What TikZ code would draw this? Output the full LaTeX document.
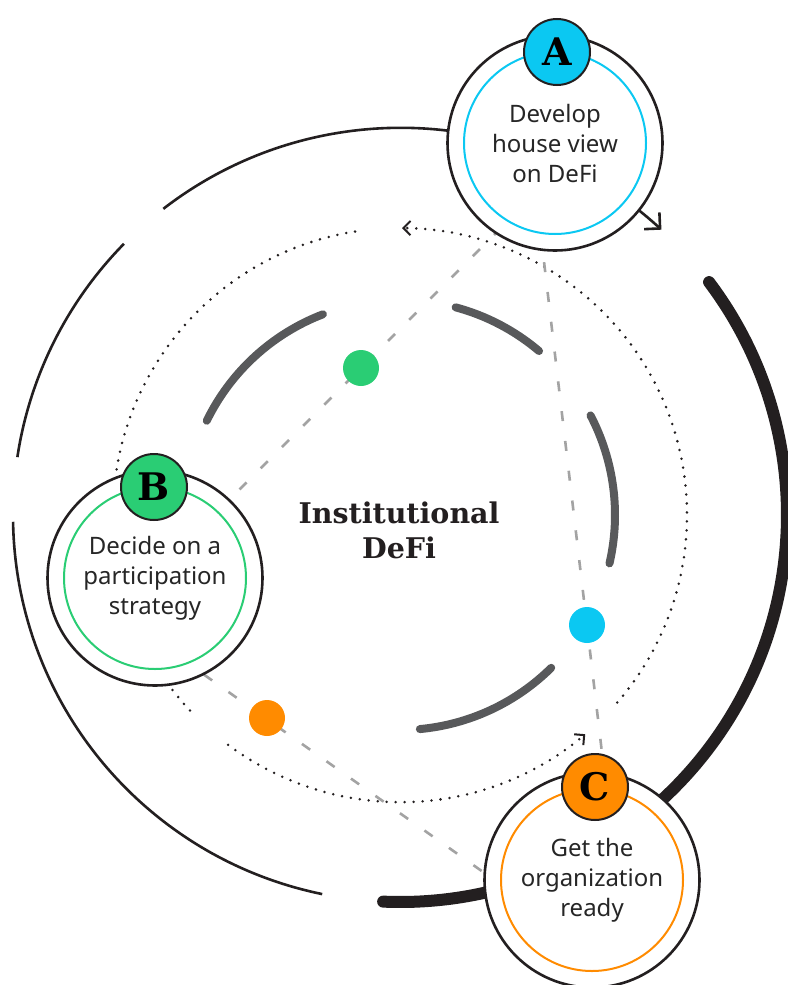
\documentclass[tikz,border=0pt]{standalone}
\usepackage{fontspec}
\setmainfont{Noto Sans}
\newfontfamily\serifbold{DejaVu Serif}
\usetikzlibrary{arrows.meta}
\definecolor{ink}{HTML}{231F20}
\definecolor{txt}{HTML}{262626}
\definecolor{ringgray}{HTML}{58595B}
\definecolor{dashgray}{HTML}{A3A3A3}
\definecolor{cyanA}{HTML}{0BC8F2}
\definecolor{greenB}{HTML}{2ACD74}
\definecolor{orangeC}{HTML}{FF8B00}
\begin{document}
\begin{tikzpicture}[x=1pt,y=-1pt,
  thinring/.style={draw=ink,line width=2.6pt},
  thickring/.style={draw=ink,line width=12pt,line cap=round},
  dotted arc/.style={draw=ink,line width=2.8pt,line cap=round,dash pattern=on 0pt off 9pt},
  grayarc/.style={draw=ringgray,line width=8pt,line cap=round},
  dashline/.style={draw=dashgray,line width=2.6pt,dash pattern=on 10pt off 20pt},
  colordot/.style={circle,minimum size=36pt,inner sep=0pt},
  outerc/.style={circle,draw=ink,fill=white,line width=2.6pt,minimum size=215pt,inner sep=0pt},
  innerc/.style={circle,line width=2pt,minimum size=182pt,inner sep=0pt},
  badge/.style={circle,draw=ink,line width=2pt,minimum size=66pt,inner sep=0pt,
    font=\serifbold\bfseries\fontsize{38}{38}\selectfont,text=black},
  steplabel/.style={align=center,text=txt,font=\fontsize{24}{30}\selectfont},
  bigbarb/.style={-{Straight Barb[angle=90:16pt]}},
  smallbarb/.style={-{Straight Barb[angle=90:10pt,line width=2pt,line cap=butt]}}
]
\useasboundingbox (0,0) rectangle (787,985);
\coordinate (O) at (400,515);

% outer ring
\draw[thinring,bigbarb] ([shift={(-127.7:387)}]O) arc[start angle=-127.7,end angle=-47.5,radius=387];
\draw[thinring] ([shift={(-135.5:387)}]O) arc[start angle=-135.5,end angle=-171.4,radius=387];
\draw[thinring] ([shift={(-181:387)}]O) arc[start angle=-181,end angle=-258.4,radius=387];
\draw[thickring] ([shift={(-267.5:387)}]O) arc[start angle=-267.5,end angle=-397,radius=387];

% dotted ring
\draw[dotted arc] ([shift={(-99:287)}]O) arc[start angle=-99,end angle=-223.4,radius=287];
\draw[dotted arc,smallbarb] ([shift={(-233.2:287)}]O) arc[start angle=-233.2,end angle=-310.2,radius=287];
\draw[dotted arc,smallbarb] ([shift={(40.8:287)}]O) arc[start angle=40.8,end angle=-89.6,radius=287];

% inner gray ring
\draw[grayarc] ([shift={(-111:215)}]O) arc[start angle=-111,end angle=-154,radius=215];
\draw[grayarc] ([shift={(-49.7:215)}]O) arc[start angle=-49.7,end angle=-75,radius=215];
\draw[grayarc] ([shift={(13:215)}]O) arc[start angle=13,end angle=-27.6,radius=215];
\draw[grayarc] ([shift={(84.7:215)}]O) arc[start angle=84.7,end angle=45.3,radius=215];

% dashed connectors
\coordinate (ab1) at (586,143); \coordinate (ab2) at (155,574);
\coordinate (ac1) at (530,143); \coordinate (ac2) at (617,880);
\coordinate (bc1) at (155,640); \coordinate (bc2) at (592,949);
\draw[dashline] (ab1) -- (ab2);
\draw[dashline] (ac1) -- (ac2);
\draw[dashline] (bc1) -- (bc2);

\node[colordot,fill=greenB] (dg) at (361,368) {};
\node[colordot,fill=cyanA] (dc) at (587,625) {};
\node[colordot,fill=orangeC] (do) at (267,718) {};

% step nodes
\node[outerc] (A) at (555,143) {};
\node[innerc,draw=cyanA] (Ai) at (A) {};
\node[steplabel] (At) at (A) {Develop\\house view\\on DeFi};
\node[badge,fill=cyanA] (Ab) at (557,52) {A};

\node[outerc] (B) at (155,578) {};
\node[innerc,draw=greenB] (Bi) at (B) {};
\node[steplabel] (Bt) at (B) {Decide on a\\participation\\strategy};
\node[badge,fill=greenB] (Bb) at (154,487) {B};

\node[outerc] (C) at (592,880) {};
\node[innerc,draw=orangeC] (Ci) at (C) {};
\node[steplabel] (Ct) at (C) {Get the\\organization\\ready};
\node[badge,fill=orangeC] (Cb) at (595,787) {C};

\node[align=center,text=ink,font=\serifbold\bfseries\fontsize{28.5}{35}\selectfont] (title) at (399,530) {Institutional\\DeFi};
\end{tikzpicture}
\end{document}
